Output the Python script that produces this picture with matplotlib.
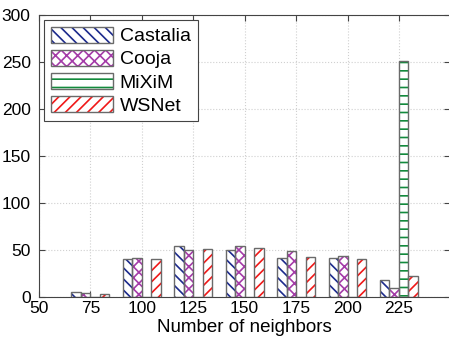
import numpy as np
import matplotlib
matplotlib.use("Agg")
import matplotlib.pyplot as plt

plt.rcParams['font.family'] = ['Liberation Sans', 'DejaVu Sans']
plt.rcParams['hatch.linewidth'] = 1.2

# donnees
neighbors = [75, 100, 125, 150, 175, 200, 225]
castalia = [5, 40, 54, 50, 42, 42, 18]
cooja = [4, 41, 50, 54, 49, 44, 10]
mixim = [0, 0, 0, 0, 0, 0, 251]
wsnet = [3, 40, 51, 52, 43, 40, 22]

series = [
    ("Castalia", castalia, "#1c2a8c", "\\\\\\"),
    ("Cooja", cooja, "#a43ca8", "xxx"),
    ("MiXiM", mixim, "#138a3c", "--"),
    ("WSNet", wsnet, "#f01818", "///"),
]

fig = plt.figure(figsize=(4.49, 3.40), dpi=100)
ax = fig.add_axes([39 / 449, 43 / 340, 1.003 - 39 / 449, 282 / 340])

width = 4.6
x = np.array(neighbors, dtype=float)
handles = []
for i, (name, vals, color, hatch) in enumerate(series):
    pos = x + (i - 1.5) * width
    # hachures colorees puis contour gris par-dessus
    h1 = ax.bar(pos, vals, width, color="white", edgecolor=color, hatch=hatch,
                linewidth=0, zorder=2)
    h2 = ax.bar(pos, vals, width, fill=False, edgecolor="#6a6a6a",
                linewidth=1.0, zorder=3)
    handles.append((h1[0], h2[0]))

ax.set_xlim(50, 250)
ax.set_ylim(0, 300)
ax.set_xticks([50, 75, 100, 125, 150, 175, 200, 225])
ax.set_yticks(np.arange(0, 301, 50))
ax.tick_params(direction="in", top=True, right=True, labelsize=12.5, length=4,
               color="#444444")
ax.tick_params(axis="x", pad=3)
ax.tick_params(axis="y", pad=6)
ax.grid(True, linestyle=":", color="#d0d0d0", linewidth=0.8, zorder=0)
ax.set_axisbelow(True)
for s in ax.spines.values():
    s.set_color("#444444")
ax.set_xlabel("Number of neighbors", fontsize=13.5, labelpad=2)

leg = ax.legend(handles, [s[0] for s in series], loc="upper left",
                fontsize=14, fancybox=False, framealpha=1, edgecolor="#444444",
                borderaxespad=0.25, handlelength=3.2, handleheight=0.9,
                handletextpad=0.35, labelspacing=0.22, borderpad=0.35)
leg.get_frame().set_linewidth(0.8)

fig.savefig("out.png", dpi=100)
